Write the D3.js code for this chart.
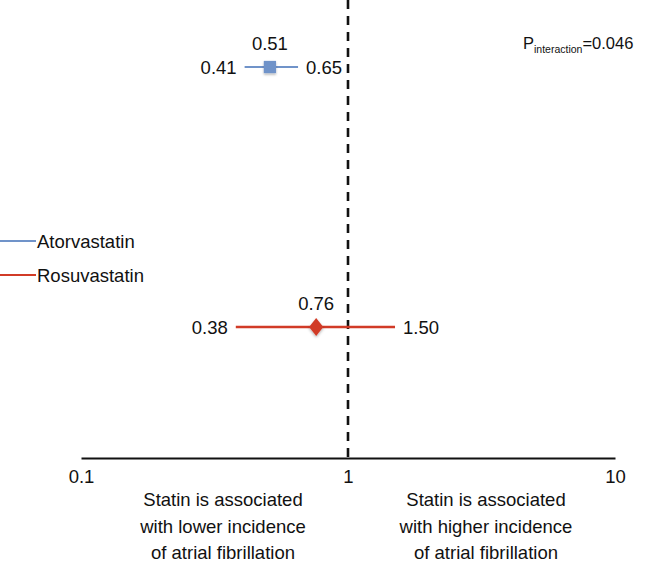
<!DOCTYPE html>
<html>
<head>
<meta charset="utf-8">
<script src="https://cdn.jsdelivr.net/npm/d3@7"></script>
<style>
  body { margin: 0; background: #fff; }
  text { font-family: "Liberation Sans", Arial, Helvetica, sans-serif; fill: #111; }
</style>
</head>
<body>
<script>
// Data
const drugs = ["Atorvastatin", "Rosuvastatin"];
const estimates = [0.51, 0.76];
const lowerCI = [0.41, 0.38];
const upperCI = [0.65, 1.50];
const colors = ["#7093c9", "#d13b27"];
const tickValues = [0.1, 1, 10];
const tickLabels = ["0.1", "1", "10"];
const pInteraction = "0.046";

const width = 646, height = 565;
const fs = "18.5px";
const svg = d3.select("body").append("svg")
  .attr("width", width)
  .attr("height", height);

const defs = svg.append("defs");
const shadow = defs.append("filter").attr("id", "shadow")
  .attr("x", "-50%").attr("y", "-50%").attr("width", "200%").attr("height", "200%");
shadow.append("feDropShadow")
  .attr("dx", 0).attr("dy", 1.5).attr("stdDeviation", 1.2)
  .attr("flood-color", "#000").attr("flood-opacity", 0.3);

const x = d3.scaleLog().domain([0.1, 10]).range([81, 615]);
const y = d3.scalePoint().domain(drugs).range([67, 327]);
const axisY = 458;

// Reference line at 1
svg.append("line")
  .attr("x1", x(1)).attr("x2", x(1))
  .attr("y1", 0).attr("y2", axisY)
  .attr("stroke", "#111")
  .attr("stroke-width", 2.6)
  .attr("stroke-dasharray", "9,7");

// Axis
const axis = svg.append("g")
  .attr("transform", `translate(0,${axisY})`)
  .call(d3.axisBottom(x).tickValues(tickValues)
    .tickFormat((d, i) => tickLabels[i]).tickSize(0).tickPadding(12));
axis.select(".domain").attr("stroke", "#111").attr("stroke-width", 2.2);
axis.selectAll(".tick text").style("font-size", fs)
  .style("font-family", "'Liberation Sans', Arial, sans-serif").attr("fill", "#111");

// Rows
const rows = svg.append("g").selectAll("g")
  .data(drugs)
  .join("g")
  .attr("transform", d => `translate(0,${y(d)})`);

rows.append("line")
  .attr("x1", (d, i) => x(lowerCI[i]))
  .attr("x2", (d, i) => x(upperCI[i]))
  .attr("stroke", (d, i) => colors[i])
  .attr("stroke-width", (d, i) => i === 0 ? 2.2 : 2.6);

rows.append("path")
  .attr("d", (d, i) => d3.symbol().type(i === 0 ? d3.symbolSquare : d3.symbolDiamond)
    .size(i === 0 ? 150 : 95)())
  .attr("transform", (d, i) => `translate(${x(estimates[i])},0)` + (i === 0 ? "" : " scale(1.35,1)"))
  .attr("fill", (d, i) => colors[i])
  .attr("filter", "url(#shadow)");

rows.append("text")
  .attr("x", (d, i) => x(estimates[i]))
  .attr("y", -17)
  .attr("text-anchor", "middle")
  .style("font-size", fs)
  .text((d, i) => estimates[i].toFixed(2));

rows.append("text")
  .attr("x", (d, i) => x(lowerCI[i]) - 8)
  .attr("y", 7)
  .attr("text-anchor", "end")
  .style("font-size", fs)
  .text((d, i) => lowerCI[i].toFixed(2));

rows.append("text")
  .attr("x", (d, i) => x(upperCI[i]) + 8)
  .attr("y", 7)
  .attr("text-anchor", "start")
  .style("font-size", fs)
  .text((d, i) => upperCI[i].toFixed(2));

// Legend
const legend = svg.append("g").selectAll("g")
  .data(drugs)
  .join("g")
  .attr("transform", (d, i) => `translate(0,${241 + i * 34})`);
legend.append("line")
  .attr("x1", 0).attr("x2", 36)
  .attr("stroke", (d, i) => colors[i])
  .attr("stroke-width", 2);
legend.append("text")
  .attr("x", 37).attr("y", 7)
  .style("font-size", fs)
  .text(d => d);

// P interaction
const p = svg.append("text").attr("x", 523).attr("y", 49)
  .style("font-size", "16.5px");
p.append("tspan").text("P");
p.append("tspan").attr("dy", 4).style("font-size", "10.5px").text("interaction");
p.append("tspan").attr("dy", -4).text("=" + pInteraction);

// Direction notes
const notes = [
  { cx: 223, lines: ["Statin is associated", "with lower incidence", "of atrial fibrillation"] },
  { cx: 486, lines: ["Statin is associated", "with higher incidence", "of atrial fibrillation"] }
];
notes.forEach(n => {
  svg.append("g").selectAll("text")
    .data(n.lines)
    .join("text")
    .attr("x", n.cx)
    .attr("y", (d, i) => 506 + i * 26.5)
    .attr("text-anchor", "middle")
    .style("font-size", fs)
    .text(d => d);
});
</script>
</body>
</html>
